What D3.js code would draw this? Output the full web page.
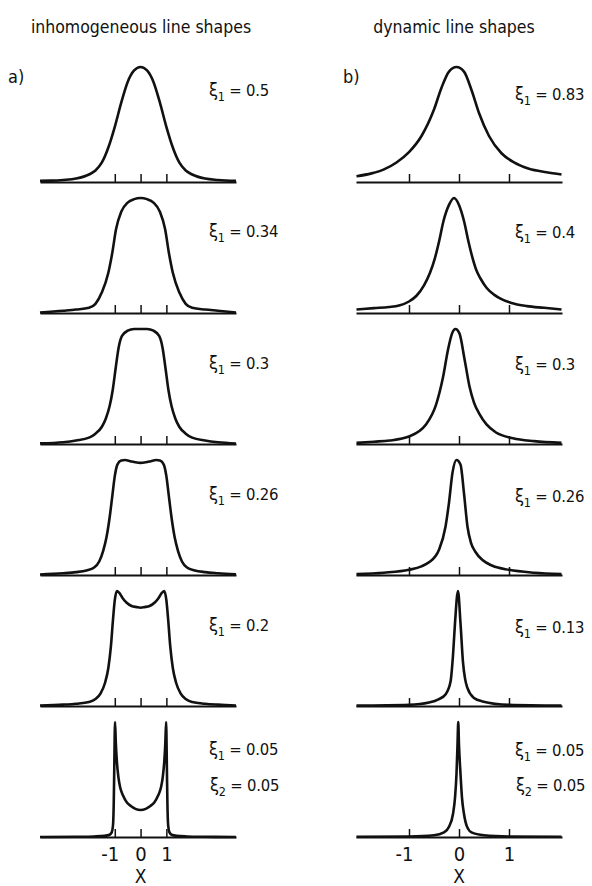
<!DOCTYPE html>
<html>
<head>
<meta charset="utf-8">
<script src="https://cdn.jsdelivr.net/npm/d3@7"></script>
<style>
body { margin: 0; background: #fff; }
text { font-family: "Liberation Sans Narrow", "DejaVu Sans Condensed", sans-serif; fill: #111; }
</style>
</head>
<body>
<svg id="chart"></svg>
<script>
/* tick values and panel labels */
var xTicks = [-1, 0, 1];
var inhomXi = ["0.5", "0.34", "0.3", "0.26", "0.2", "0.05"];
var dynXi = ["0.83", "0.4", "0.3", "0.26", "0.13", "0.05"];
var xi2 = "0.05";

/* inhomogeneous line shapes, [x, relative intensity] */
var inhom050 = [[-3.9,0.01],[-3.5,0.012],[-3,0.018],[-2.5,0.03],[-2,0.065],[-1.75,0.1],[-1.5,0.17],[-1.25,0.3],[-1,0.48],[-0.75,0.69],[-0.5,0.87],[-0.25,0.97],[0,1],[0.25,0.97],[0.5,0.87],[0.75,0.69],[1,0.48],[1.25,0.3],[1.5,0.17],[1.75,0.1],[2,0.065],[2.5,0.03],[3,0.018],[3.7,0.01]];
var inhom034 = [[-3.9,0.005],[-3,0.02],[-2.5,0.03],[-2,0.045],[-1.75,0.08],[-1.5,0.18],[-1.25,0.35],[-1.1,0.52],[-0.95,0.73],[-0.75,0.88],[-0.5,0.96],[-0.25,0.99],[0,1],[0.25,0.99],[0.5,0.96],[0.75,0.88],[0.95,0.73],[1.1,0.52],[1.25,0.35],[1.5,0.18],[1.75,0.08],[2,0.045],[2.5,0.03],[3,0.02],[3.7,0.005]];
var inhom030 = [[-3.9,0.005],[-3,0.015],[-2.5,0.03],[-2,0.055],[-1.75,0.09],[-1.5,0.15],[-1.35,0.22],[-1.2,0.33],[-1.08,0.47],[-0.96,0.67],[-0.85,0.84],[-0.72,0.94],[-0.5,0.985],[-0.25,1],[0,1],[0.25,1],[0.5,0.985],[0.72,0.94],[0.85,0.84],[0.96,0.67],[1.08,0.47],[1.2,0.33],[1.35,0.22],[1.5,0.15],[1.75,0.09],[2,0.055],[2.5,0.03],[3,0.015],[3.7,0.005]];
var inhom026 = [[-3.9,0.005],[-3,0.015],[-2.5,0.025],[-2.1,0.04],[-1.8,0.065],[-1.6,0.12],[-1.45,0.21],[-1.32,0.33],[-1.2,0.5],[-1.1,0.68],[-1,0.86],[-0.9,0.96],[-0.75,0.995],[-0.6,1],[-0.4,0.99],[-0.2,0.98],[0,0.975],[0.2,0.98],[0.4,0.99],[0.6,1],[0.75,0.995],[0.9,0.96],[1,0.86],[1.1,0.68],[1.2,0.5],[1.32,0.33],[1.45,0.21],[1.6,0.12],[1.8,0.065],[2.1,0.04],[2.5,0.025],[3,0.015],[3.7,0.005]];
var inhom020 = [[-3.9,0.005],[-3,0.012],[-2.5,0.02],[-2,0.035],[-1.75,0.06],[-1.55,0.11],[-1.38,0.2],[-1.25,0.33],[-1.15,0.52],[-1.07,0.75],[-1,0.92],[-0.92,1],[-0.83,0.985],[-0.7,0.94],[-0.55,0.9],[-0.35,0.87],[-0.15,0.86],[0,0.855],[0.15,0.86],[0.35,0.87],[0.55,0.9],[0.7,0.94],[0.83,0.985],[0.92,1],[1,0.92],[1.07,0.75],[1.15,0.52],[1.25,0.33],[1.38,0.2],[1.55,0.11],[1.75,0.06],[2,0.035],[2.5,0.02],[3,0.012],[3.7,0.005]];
var inhom005 = [[-3.9,0],[-2.5,0.002],[-1.8,0.005],[-1.4,0.01],[-1.2,0.02],[-1.12,0.04],[-1.07,0.1],[-1.04,0.3],[-1.02,0.6],[-0.99,1],[-0.96,0.82],[-0.92,0.66],[-0.86,0.52],[-0.79,0.43],[-0.68,0.36],[-0.53,0.3],[-0.38,0.27],[-0.2,0.245],[0,0.235],[0.2,0.245],[0.38,0.27],[0.53,0.3],[0.68,0.36],[0.79,0.43],[0.86,0.52],[0.92,0.66],[0.96,0.82],[0.99,1],[1.02,0.6],[1.04,0.3],[1.07,0.1],[1.12,0.04],[1.2,0.02],[1.4,0.01],[1.8,0.005],[2.5,0.002],[3.7,0]];

/* dynamic line shapes */
var dyn083 = [[-2.05,0.05],[-1.75,0.075],[-1.5,0.11],[-1.25,0.17],[-1,0.26],[-0.75,0.4],[-0.5,0.63],[-0.35,0.82],[-0.2,0.96],[-0.05,1],[0.1,0.96],[0.25,0.8],[0.4,0.6],[0.6,0.4],[0.85,0.25],[1.1,0.17],[1.4,0.115],[1.75,0.085],[2.05,0.065]];
var dyn040 = [[-2.05,0.03],[-1.7,0.042],[-1.4,0.052],[-1.2,0.065],[-1,0.1],[-0.85,0.15],[-0.7,0.24],[-0.58,0.35],[-0.48,0.48],[-0.4,0.62],[-0.31,0.8],[-0.2,0.94],[-0.1,1],[0,0.94],[0.1,0.8],[0.19,0.62],[0.27,0.48],[0.35,0.37],[0.43,0.3],[0.55,0.22],[0.7,0.16],[0.85,0.12],[1.03,0.09],[1.36,0.06],[1.7,0.045],[2.05,0.03]];
var dyn030 = [[-2.05,0.01],[-1.7,0.02],[-1.39,0.03],[-1,0.065],[-0.8,0.11],[-0.66,0.17],[-0.46,0.34],[-0.32,0.58],[-0.22,0.82],[-0.14,0.96],[-0.07,1],[0.01,0.96],[0.11,0.74],[0.21,0.5],[0.3,0.36],[0.41,0.26],[0.55,0.17],[0.74,0.1],[1.08,0.05],[1.5,0.025],[2.05,0.01]];
var dyn026 = [[-2.05,0.008],[-1.5,0.02],[-1,0.045],[-0.75,0.075],[-0.6,0.11],[-0.4,0.22],[-0.27,0.42],[-0.2,0.63],[-0.13,0.89],[-0.05,1],[0.03,0.96],[0.1,0.71],[0.17,0.42],[0.24,0.28],[0.33,0.2],[0.47,0.13],[0.67,0.08],[1,0.045],[1.5,0.02],[2.05,0.008]];
var dyn013 = [[-2.05,0.003],[-1,0.01],[-0.6,0.03],[-0.4,0.06],[-0.27,0.1],[-0.17,0.21],[-0.12,0.44],[-0.08,0.72],[-0.02,1],[0.03,0.72],[0.08,0.38],[0.12,0.24],[0.17,0.155],[0.3,0.07],[0.47,0.04],[1,0.01],[2.05,0.003]];
var dyn005 = [[-2.05,0.002],[-1,0.005],[-0.5,0.015],[-0.3,0.04],[-0.2,0.09],[-0.12,0.2],[-0.08,0.34],[-0.05,0.55],[-0.03,0.8],[-0.015,1],[0,0.8],[0.03,0.55],[0.06,0.34],[0.1,0.2],[0.16,0.09],[0.25,0.04],[0.5,0.015],[1,0.005],[2.05,0.002]];

var svg = d3.select("#chart").attr("width", 592).attr("height", 886);

var xLeft = d3.scaleLinear().domain([-3.9, 3.7]).range([40, 236]);
var xRight = d3.scaleLinear().domain([-2.06, 2.06]).range([356, 562]);
var panelY = d3.scaleLinear().domain([0, 5]).range([182, 837]);
var y = d3.scaleLinear().domain([0, 1]).range([0, -115]);

/* titles */
svg.append("text").attr("x", 141).attr("y", 33).attr("text-anchor", "middle")
	.attr("font-size", 17.5).text("inhomogeneous line shapes");
svg.append("text").attr("x", 454).attr("y", 33).attr("text-anchor", "middle")
	.attr("font-size", 17.5).text("dynamic line shapes");
svg.append("text").attr("x", 8).attr("y", 83).attr("font-size", 18).text("a)");
svg.append("text").attr("x", 343).attr("y", 83).attr("font-size", 18).text("b)");

function xiLabel(g, x, yy, sub, value) {
	var t = g.append("text").attr("x", x).attr("y", yy)
		.attr("font-size", 16.5).attr("letter-spacing", -0.2);
	t.append("tspan").attr("font-size", 18).text("\u03be");
	t.append("tspan").attr("font-size", 12.5).attr("dy", 5).text(sub);
	t.append("tspan").attr("dy", -5).text(" = " + value);
}

function drawColumn(curves, labels, x, labelX, labelRise) {
	var line = d3.line()
		.x(function(d) { return x(d[0]); })
		.y(function(d) { return y(d[1]); })
		.curve(d3.curveMonotoneX);

	curves.forEach(function(data, i) {
		var last = i == curves.length - 1;
		var g = svg.append("g").attr("transform", "translate(0," + panelY(i) + ")");

		var axis = d3.axisBottom(x)
			.tickValues(xTicks)
			.tickSize(-8)
			.tickSizeOuter(0)
			.tickPadding(10)
			.tickFormat(function(d) { return last ? (d < 0 ? "-" + Math.abs(d) : d) : ""; });

		var ax = g.append("g").call(axis);
		ax.select(".domain").attr("stroke", "#111").attr("stroke-width", 2.2);
		ax.selectAll(".tick line").attr("stroke", "#111").attr("stroke-width", 1.5);
		ax.selectAll(".tick text").attr("font-size", 20).attr("fill", "#111")
			.attr("dx", function(d) { return d < 0 ? -5 : 0; });

		g.append("path")
			.datum(data)
			.attr("d", line)
			.attr("fill", "none")
			.attr("stroke", "#111")
			.attr("stroke-width", 2.6)
			.attr("stroke-linejoin", "round");

		xiLabel(g, labelX, -labelRise[i], "1", labels[i]);
		if (last) {
			xiLabel(g, labelX + 1, -46, "2", xi2);
			g.append("text").attr("x", x(0)).attr("y", 46).attr("text-anchor", "middle")
				.attr("font-size", 19).text("X");
		}
	});
}

drawColumn([inhom050, inhom034, inhom030, inhom026, inhom020, inhom005], inhomXi, xLeft, 209, [86, 76, 75, 75, 75, 82]);
drawColumn([dyn083, dyn040, dyn030, dyn026, dyn013, dyn005], dynXi, xRight, 515, [82, 75, 74, 73, 73, 81]);
</script>
</body>
</html>
